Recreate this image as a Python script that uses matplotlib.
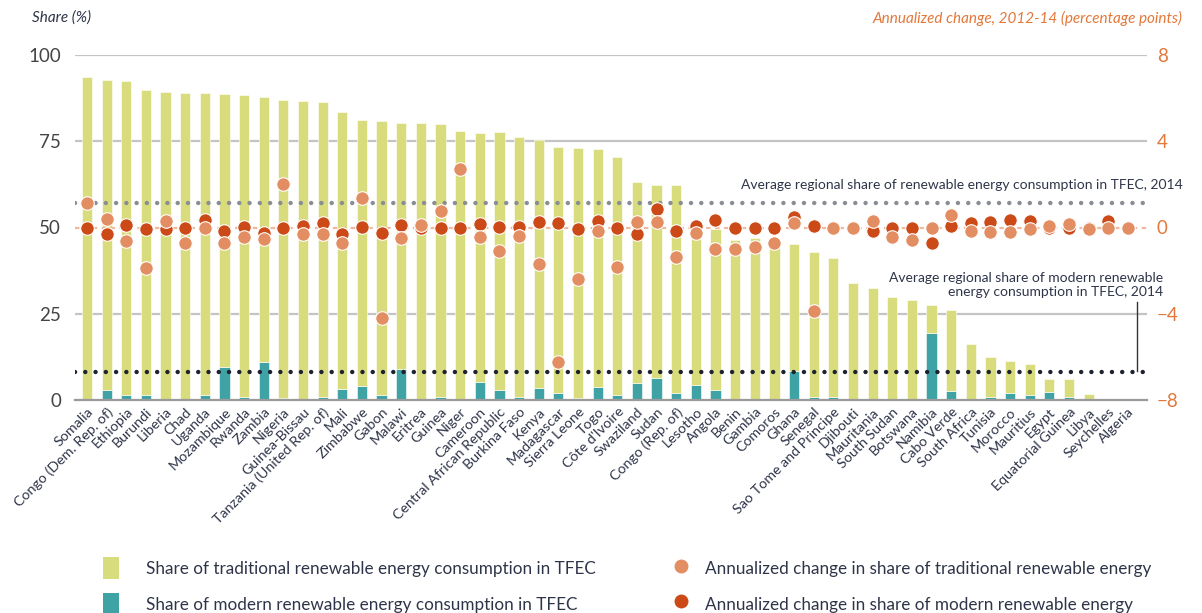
import matplotlib.pyplot as plt
import numpy as np
from matplotlib.patches import Patch
from matplotlib.lines import Line2D

plt.rcParams["font.family"] = ["Lato", "DejaVu Sans"]

# -----------------------------------------------
# data
# -----------------------------------------------
countries = [
    "Somalia", "Congo (Dem. Rep. of)", "Ethiopia", "Burundi", "Liberia", "Chad",
    "Uganda", "Mozambique", "Rwanda", "Zambia", "Nigeria", "Guinea-Bissau",
    "Tanzania (United Rep. of)", "Mali", "Zimbabwe", "Gabon", "Malawi", "Eritrea",
    "Guinea", "Niger", "Cameroon", "Central African Republic", "Burkina Faso",
    "Kenya", "Madagascar", "Sierra Leone", "Togo", "Côte d'Ivoire", "Swaziland",
    "Sudan", "Congo (Rep. of)", "Lesotho", "Angola", "Benin", "Gambia", "Comoros",
    "Ghana", "Senegal", "Sao Tome and Principe", "Djibouti", "Mauritania",
    "South Sudan", "Botswana", "Namibia", "Cabo Verde", "South Africa", "Tunisia",
    "Morocco", "Mauritius", "Egypt", "Equatorial Guinea", "Libya", "Seychelles",
    "Algeria",
]

traditional = [
    93.7, 89.9, 91.2, 88.5, 89.4, 88.9, 87.5, 79.1, 87.6, 76.9, 86.4, 86.8,
    85.3, 80.1, 77.1, 79.6, 71.5, 80.2, 78.9, 78.0, 72.0, 74.8, 75.3, 72.0,
    71.3, 72.3, 68.8, 69.1, 58.3, 56.0, 60.4, 45.7, 46.6, 46.5, 47.0, 46.0,
    36.7, 42.0, 40.3, 33.9, 32.4, 29.9, 28.9, 7.9, 23.4, 16.0, 11.7, 9.4,
    8.8, 3.7, 5.2, 1.6, 0.2, 0.1,
]

modern = [
    0.0, 2.9, 1.4, 1.4, 0.0, 0.0, 1.4, 9.5, 0.8, 11.0, 0.6, 0.0,
    1.0, 3.3, 4.1, 1.4, 8.9, 0.0, 1.0, 0.0, 5.3, 2.9, 0.8, 3.4,
    1.9, 0.6, 3.9, 1.4, 5.0, 6.3, 1.9, 4.3, 2.9, 0.0, 0.0, 0.0,
    8.5, 1.0, 1.0, 0.0, 0.0, 0.0, 0.0, 19.5, 2.6, 0.2, 0.9, 2.0,
    1.5, 2.4, 0.9, 0.0, 0.1, 0.1,
]

chg_traditional = [
    1.14, 0.39, -0.62, -1.87, 0.28, -0.71, 0.0, -0.74, -0.43, -0.54, 2.04, -0.32,
    -0.28, -0.74, 1.39, -4.19, -0.51, 0.1, 0.77, 2.69, -0.46, -1.1, -0.4, -1.7,
    -6.24, -2.4, -0.15, -1.82, 0.25, 0.25, -1.39, -0.25, -1.02, -1.02, -0.9, -0.74,
    0.23, -3.85, 0.0, 0.0, 0.3, -0.45, -0.6, 0.0, 0.6, -0.14, -0.22, -0.22,
    -0.09, 0.06, 0.14, -0.09, 0.0, 0.0,
]

chg_modern = [
    0.0, -0.31, 0.1, -0.05, -0.05, 0.0, 0.37, -0.17, 0.03, -0.25, 0.0, 0.08,
    0.19, -0.31, 0.03, -0.25, 0.11, 0.0, 0.0, 0.0, 0.15, 0.03, 0.03, 0.26,
    0.23, -0.08, 0.29, 0.0, -0.28, 0.88, -0.15, 0.08, 0.34, 0.0, 0.0, 0.0,
    0.5, 0.09, 0.0, 0.0, -0.14, 0.0, 0.0, -0.71, 0.06, 0.2, 0.25, 0.37,
    0.29, 0.0, 0.0, 0.0, 0.32, 0.0,
]

avg_total = 57.2
avg_modern = 8.2

# -----------------------------------------------
# colours
# -----------------------------------------------
YELLOW = "#d8dc7c"
TEAL = "#3fa2a5"
LIGHT = "#e38d62"
DARK = "#cc4a17"
ORANGE_TXT = "#e3783a"
TXT = "#2f3549"
GRID = "#c4c4c4"

fig = plt.figure(figsize=(12.02, 6.13), dpi=100)
ax = fig.add_axes([75 / 1202, 1 - 400 / 613, (1147 - 75) / 1202, 345 / 613])


# pixel helper for annotations (figure pixel, origin top-left)
def px(xp, yp):
    return xp / 1202, 1 - yp / 613


x = np.arange(len(countries))

for v in (25, 75, 100):
    ax.axhline(v, color=GRID, lw=1.6, zorder=0)

ax.bar(x, modern, width=0.52, color=TEAL, edgecolor="white", linewidth=0.4, zorder=2)
ax.bar(x, traditional, width=0.52, bottom=modern, color=YELLOW,
       edgecolor="white", linewidth=0.4, zorder=2)

ax.set_xlim(-0.61, 53.97)
ax.set_ylim(0, 100)

# average lines
ax.plot([-0.61, 53.97], [avg_total] * 2, color="#8a8d94", lw=3.2,
        linestyle=(0, (0.01, 2.3)), dash_capstyle="round", zorder=3)
ax.plot([-0.61, 53.97], [avg_modern] * 2, color="#1f2230", lw=3.2,
        linestyle=(0, (0.01, 2.3)), dash_capstyle="round", zorder=3)

fig.text(*px(1183, 185), "Average regional share of renewable energy consumption in TFEC, 2014",
         fontsize=10, color=TXT, ha="right", va="center")
fig.text(*px(1163, 285), "Average regional share of modern renewable\nenergy consumption in TFEC, 2014",
         fontsize=10, color=TXT, ha="right", va="center", linespacing=1.25)

p1 = px(1137, 302)
p2 = px(1137, 371)
fig.add_artist(Line2D([p1[0], p2[0]], [p1[1], p2[1]], color="#333", lw=1.0))

# left axis styling
for s in ("top", "right", "left"):
    ax.spines[s].set_visible(False)
ax.spines["bottom"].set_color("#9a9a9a")
ax.spines["bottom"].set_linewidth(1.6)
ax.set_yticks([0, 25, 50, 75, 100])
ax.tick_params(axis="y", length=0, pad=10, labelsize=13.5, labelcolor="#444")
ax.set_xticks(x)
ax.set_xticklabels(countries, rotation=45, ha="right", rotation_mode="anchor",
                   fontsize=10.3, color=TXT)
ax.tick_params(axis="x", length=0, pad=4)

# right axis: annualized change
ax2 = ax.twinx()
ax2.set_ylim(-8, 8)
ax2.set_xlim(-0.61, 53.97)
ax2.axhline(0, color="#f0b89e", lw=1.6, linestyle=(0, (2, 2)), zorder=1)
ax2.scatter(x, chg_modern, s=95, color=DARK, edgecolor="white", linewidth=0.8, zorder=4)
ax2.scatter(x, chg_traditional, s=95, color=LIGHT, edgecolor="white", linewidth=0.8, zorder=5)
for s in ("top", "right", "left", "bottom"):
    ax2.spines[s].set_visible(False)
ax2.set_yticks([-8, -4, 0, 4, 8])
ax2.tick_params(axis="y", length=0, pad=7, labelsize=13.5, labelcolor=ORANGE_TXT)

fig.text(*px(32, 18), "Share (%)", fontsize=11, style="italic",
         color=TXT, ha="left", va="center")
fig.text(*px(1182, 18), "Annualized change, 2012-14 (percentage points)",
         fontsize=11, style="italic", color=ORANGE_TXT, ha="right", va="center")

# legends
h_left = [Patch(facecolor=YELLOW), Patch(facecolor=TEAL)]
l_left = ["Share of traditional renewable energy consumption in TFEC",
          "Share of modern renewable energy consumption in TFEC"]
fig.legend(h_left, l_left, loc="upper left", bbox_to_anchor=px(88, 542),
           frameon=False, fontsize=12.3, handlelength=0.9, handleheight=1.6,
           handletextpad=1.6, labelspacing=0.8, labelcolor=TXT)

h_right = [Line2D([], [], marker="o", color=LIGHT, linestyle="none", markersize=9),
           Line2D([], [], marker="o", color=DARK, linestyle="none", markersize=9)]
l_right = ["Annualized change in share of traditional renewable energy",
           "Annualized change in share of modern renewable energy"]
fig.legend(h_right, l_right, loc="upper left", bbox_to_anchor=px(655, 542),
           frameon=False, fontsize=12.3, handlelength=1.2, handleheight=1.6,
           handletextpad=0.8, labelspacing=0.8, labelcolor=TXT)

fig.savefig("out.png", dpi=100)
